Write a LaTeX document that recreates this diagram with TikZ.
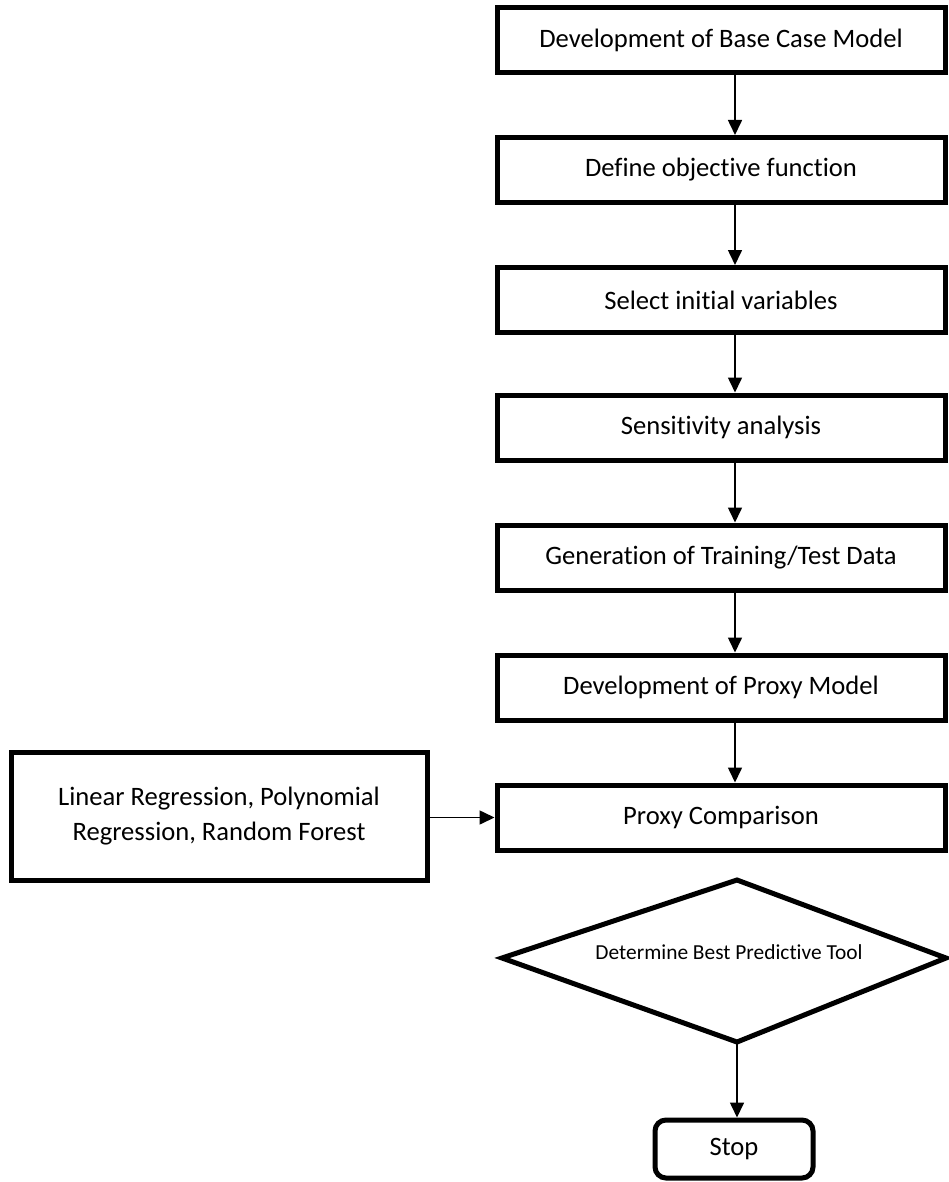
\documentclass[tikz,border=0pt]{standalone}
\usepackage{fontspec}
\setmainfont{Carlito}[Ligatures=NoCommon]
\usetikzlibrary{arrows.meta}
\tikzset{
  stepbox/.style={draw=black, line width=5pt, minimum width=448pt, minimum height=65pt,
    inner sep=0pt, font=\fontsize{26.6}{32}\selectfont, fill=white},
  sidebox/.style={draw=black, line width=5pt, minimum width=416pt, minimum height=128pt,
    inner sep=0pt, align=center, font=\fontsize{26.6}{35}\selectfont},
  stopbox/.style={draw=black, line width=5pt, rounded corners=11pt, minimum width=158pt,
    minimum height=58pt, inner sep=0pt, font=\fontsize{26.6}{32}\selectfont},
  flow/.style={line width=1.6pt, -{Triangle[width=14pt,length=15pt]}},
}
\begin{document}
\begin{tikzpicture}[x=1pt,y=-1pt]
\useasboundingbox (0,0) rectangle (948,1182);
\coordinate (ax) at (735,0);
\node[stepbox] (b1) at (721,40.5) {Development of Base Case Model};
\node[stepbox] (b2) at (721,170) {Define objective function};
\node[stepbox] (b3) at (721,300) {Select initial variables};
\node[stepbox] (b4) at (721,427.5) {Sensitivity analysis};
\node[stepbox] (b5) at (721,557.5) {Generation of Training/Test Data};
\node[stepbox] (b6) at (721,687.5) {Development of Proxy Model};
\node[stepbox] (b7) at (721,817.5) {Proxy Comparison};
\node[sidebox] (lb) at (219,816) {Linear Regression, Polynomial\\Regression, Random Forest};
% decision diamond
\coordinate (dl) at (502,958);
\coordinate (dt) at (737,880);
\coordinate (dr) at (946,958);
\coordinate (db) at (737,1042);
\draw[line width=5pt, line join=miter] (dl) -- (dt) -- (dr) -- (db) -- cycle;
\node[font=\fontsize{21.4}{26}\selectfont] (dm) at (729,952) {Determine Best Predictive Tool};
\node[stopbox] (stop) at (734,1149) {Stop};
% connectors
\draw[flow] (b1.south -| ax) -- (b2.north -| ax);
\draw[flow] (b2.south -| ax) -- (b3.north -| ax);
\draw[flow] (b3.south -| ax) -- (b4.north -| ax);
\draw[flow] (b4.south -| ax) -- (b5.north -| ax);
\draw[flow] (b5.south -| ax) -- (b6.north -| ax);
\draw[flow] (b6.south -| ax) -- (b7.north -| ax);
\draw[flow] (lb.east |- b7.west) -- (b7.west);
\draw[flow] (db) -- (stop.north -| db);
\end{tikzpicture}
\end{document}
